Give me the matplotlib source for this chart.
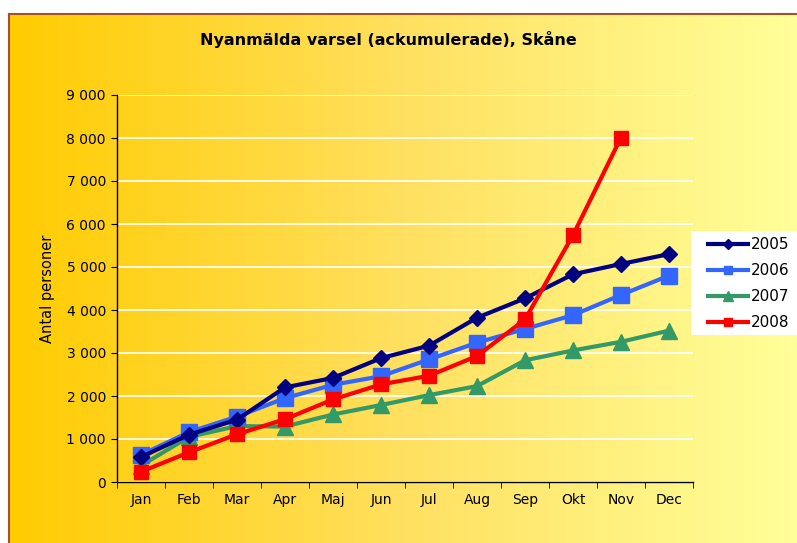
import numpy as np
import matplotlib
matplotlib.use("Agg")
import matplotlib.pyplot as plt
from matplotlib.colors import LinearSegmentedColormap
from matplotlib.patches import Rectangle

months = ["Jan", "Feb", "Mar", "Apr", "Maj", "Jun", "Jul", "Aug", "Sep", "Okt", "Nov", "Dec"]
y2005 = [580, 1100, 1450, 2200, 2420, 2880, 3170, 3820, 4270, 4830, 5070, 5300]
y2006 = [630, 1160, 1520, 1950, 2260, 2460, 2850, 3240, 3560, 3880, 4350, 4800]
y2007 = [380, 1050, 1300, 1290, 1570, 1790, 2020, 2230, 2830, 3060, 3260, 3520]
y2008 = [240, 690, 1110, 1460, 1920, 2270, 2470, 2930, 3780, 5740, 8010]
yticks = [0, 1000, 2000, 3000, 4000, 5000, 6000, 7000, 8000, 9000]
ytick_labels = ["0", "1 000", "2 000", "3 000", "4 000", "5 000", "6 000", "7 000", "8 000", "9 000"]

fig = plt.figure(figsize=(7.97, 5.43), dpi=100)
fig.patch.set_facecolor("white")

W, H = 797, 543
# gradient background
bg = fig.add_axes([9 / W, 0, 1 - 9 / W, (H - 14) / H])
cmap = LinearSegmentedColormap.from_list("g", ["#FFCC00", "#FFE060", "#FFFF99"])
grad = np.linspace(0, 1, 256).reshape(1, -1)
bg.imshow(grad, aspect="auto", cmap=cmap, extent=[0, 1, 0, 1])
bg.set_xlim(0, 1)
bg.set_ylim(0, 1)
bg.axis("off")
# border lines
fig.add_artist(plt.Line2D([9 / W, 1], [(H - 13.5) / H] * 2, color="#A0522D", lw=1.5, transform=fig.transFigure))
fig.add_artist(plt.Line2D([8.5 / W] * 2, [0, (H - 13.5) / H], color="#A0522D", lw=1.5, transform=fig.transFigure))

ax = fig.add_axes([117 / W, (H - 482) / H, (693 - 117) / W, (482 - 95) / H])
ax.patch.set_alpha(0)

x = np.arange(len(months))
ax.plot(x, y2005, color="#000080", lw=3, marker="D", markersize=8.5, label="2005", zorder=5)
ax.plot(x, y2006, color="#3366FF", lw=3, marker="s", markersize=11.5, label="2006", zorder=4)
ax.plot(x, y2007, color="#339966", lw=3, marker="^", markersize=12, label="2007", zorder=3)
ax.plot(x[:len(y2008)], y2008, color="#FF0000", lw=3, marker="s", markersize=10, label="2008", zorder=6)

ax.set_xlim(-0.5, len(months) - 0.5)
ax.set_ylim(0, 9000)
ax.set_yticks(yticks)
ax.set_yticklabels(ytick_labels, fontsize=10)
ax.set_xticks(x)
ax.set_xticklabels(months, fontsize=10)
ax.set_xticks(np.arange(-0.5, len(months), 1), minor=True)
ax.tick_params(axis="x", which="major", length=0, pad=8)
ax.tick_params(axis="x", which="minor", length=4, direction="out", color="black")
ax.tick_params(axis="y", length=4, direction="out", pad=4)
ax.yaxis.grid(True, color="white", lw=1.2)
ax.set_axisbelow(True)
for s in ["top", "right"]:
    ax.spines[s].set_visible(False)
for s in ["left", "bottom"]:
    ax.spines[s].set_color("black")
    ax.spines[s].set_linewidth(1)

ax.set_ylabel("Antal personer", fontsize=10.5, labelpad=8)

fig.text(388 / W, 1 - 40 / H, "Nyanmälda varsel (ackumulerade), Skåne", ha="center", va="center",
         fontsize=11.5, fontweight="bold")

# legend box
fig.add_artist(Rectangle((691 / W, 1 - 335 / H), (W - 691) / W, (335 - 231) / H,
                         facecolor="white", edgecolor="none", transform=fig.transFigure, zorder=20))

handles, labels = ax.get_legend_handles_labels()
leg = fig.legend(handles, labels, loc="upper left", bbox_to_anchor=(705 / W, 1 - 234 / H),
                 frameon=False, fontsize=11, markerscale=0.55, handlelength=2.6,
                 handletextpad=0.2, borderpad=0.2, labelspacing=0.72, borderaxespad=0)
leg.set_zorder(30)

fig.savefig("out.png", dpi=100)
